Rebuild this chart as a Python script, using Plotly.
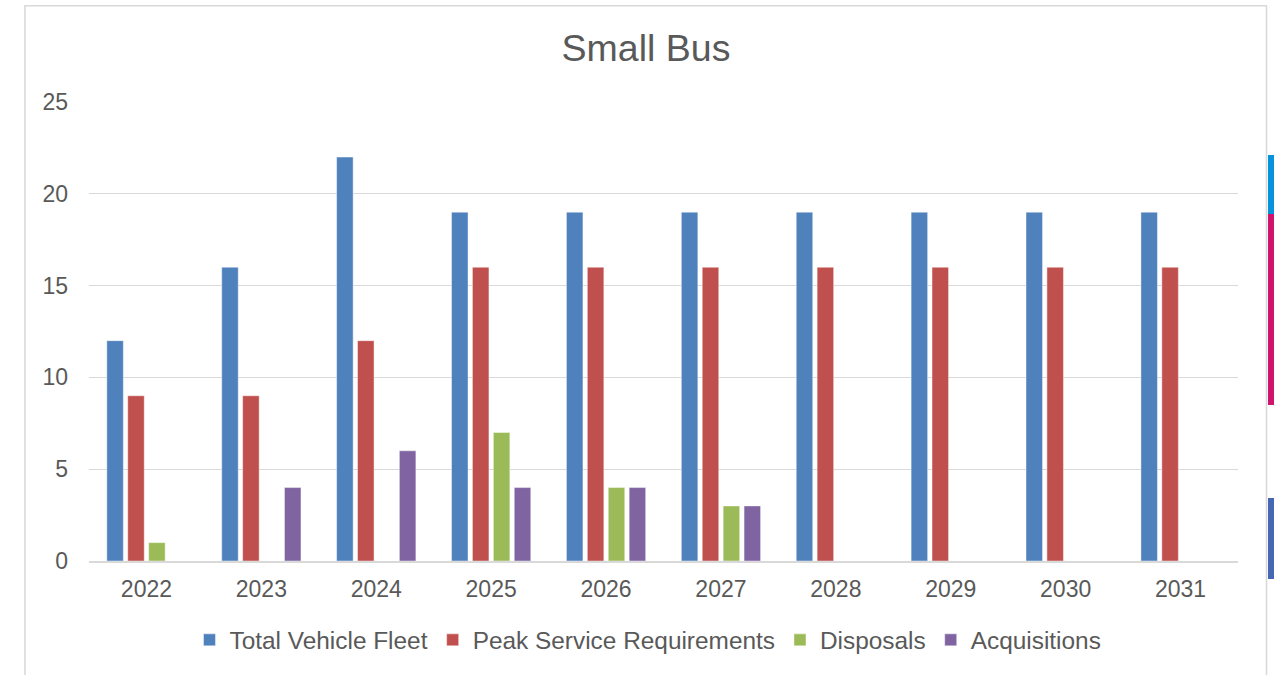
import plotly.graph_objects as go

years = ["2022", "2023", "2024", "2025", "2026", "2027", "2028", "2029", "2030", "2031"]
total_fleet = [12, 16, 22, 19, 19, 19, 19, 19, 19, 19]
peak_service = [9, 9, 12, 16, 16, 16, 16, 16, 16, 16]
disposals = [1, 0, 0, 7, 4, 3, 0, 0, 0, 0]
acquisitions = [0, 4, 6, 4, 4, 3, 0, 0, 0, 0]

series = [
    ("Total Vehicle Fleet", total_fleet, "#4F81BD"),
    ("Peak Service Requirements", peak_service, "#C0504D"),
    ("Disposals", disposals, "#9BBB59"),
    ("Acquisitions", acquisitions, "#8064A2"),
]

W, H = 1274, 675
L, R, T, B = 89, 1238, 102, 561
pw, ph = R - L, B - T

def px(x):
    return (x - L) / pw

def py(y):
    return (B - y) / ph

fig = go.Figure()
for name, vals, col in series:
    fig.add_trace(go.Bar(
        x=years, y=vals, name=name,
        marker=dict(color=col, line=dict(color="rgba(255,255,255,0.55)", width=0.8)),
    ))

shapes = [
    dict(type="rect", xref="paper", yref="paper",
         x0=px(25), x1=px(1266.5), y0=py(5.8), y1=py(690),
         line=dict(color="#D9D9D9", width=1.6), fillcolor="rgba(0,0,0,0)", layer="below"),
    dict(type="rect", xref="paper", yref="paper",
         x0=px(1268), x1=px(1275), y0=py(155), y1=py(214),
         line=dict(width=0), fillcolor="#0693DC"),
    dict(type="rect", xref="paper", yref="paper",
         x0=px(1268), x1=px(1275), y0=py(214), y1=py(405),
         line=dict(width=0), fillcolor="#D0146B"),
    dict(type="rect", xref="paper", yref="paper",
         x0=px(1268), x1=px(1275), y0=py(498), y1=py(579),
         line=dict(width=0), fillcolor="#4767B5"),
]

fig.update_layout(
    width=W, height=H,
    margin=dict(l=L, r=W - R, t=T, b=H - B, pad=0),
    paper_bgcolor="white", plot_bgcolor="white",
    barmode="group", bargap=0.272, bargroupgap=0.21,
    font=dict(family="Liberation Sans, Arial, sans-serif", color="#595959", size=23),
    title=dict(text="Small Bus", xref="container", x=646 / W, xanchor="center",
               y=1 - 48 / H, yanchor="middle",
               font=dict(size=37.5, color="#595959")),
    xaxis=dict(type="category", showgrid=False, showline=True,
               linecolor="#D9D9D9", linewidth=2, ticks="",
               tickfont=dict(size=23, color="#595959"), ticklabelstandoff=6),
    yaxis=dict(range=[0, 25], dtick=5, showgrid=True, gridcolor="#D9D9D9",
               gridwidth=1.3, zeroline=False, showline=False, ticks="",
               tickfont=dict(size=23, color="#595959"), ticklabelstandoff=20),
    legend=dict(orientation="h", x=px(648), xanchor="center",
                y=py(640), yanchor="middle",
                font=dict(size=24.4, color="#595959"),
                itemwidth=30, tracegroupgap=0),
    shapes=shapes,
    showlegend=True,
)

fig.write_html("out.html")
